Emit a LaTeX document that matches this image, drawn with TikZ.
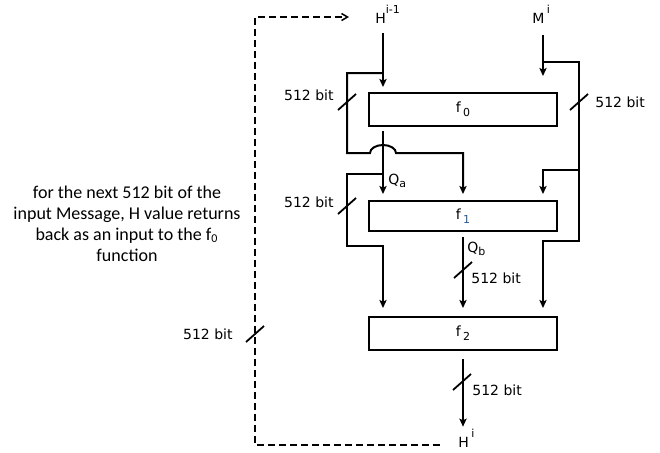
\documentclass[tikz,border=0pt]{standalone}
\usepackage{fontspec}
\setmainfont{DejaVu Sans}
\newfontfamily\notefont{Carlito}
\usetikzlibrary{arrows.meta, positioning, calc}
\definecolor{colIdx}{RGB}{31,92,153}
\newcommand{\hsup}[1]{\raisebox{1.25ex}{\fontsize{5.5}{6}\selectfont #1}}
\newcommand{\lsub}[1]{\raisebox{-0.5ex}{\fontsize{5.5}{6}\selectfont #1}}
\tikzset{
  % compression blocks
  fblock/.style={
    rectangle, draw, line width=1pt,
    inner sep=0pt, minimum width=94pt, minimum height=16.5pt,
    font=\fontsize{7}{8}\selectfont,
  },
  % signal names and width labels
  sig/.style   ={inner sep=0pt, font=\fontsize{7}{8}\selectfont},
  bitLbl/.style={inner sep=0pt, font=\fontsize{7}{8}\selectfont},
  % wires
  wire/.style   ={line width=1pt},
  flowArr/.style={wire, -{Stealth[length=4pt, width=3.6pt, inset=0.8pt]}},
  loopArr/.style={line width=0.75pt, dash pattern=on 3.5pt off 2pt,
                  -{Straight Barb[length=3pt, width=3.5pt]}},
  % bus width tick
  busmark/.pic={\draw[line width=0.9pt] (-9,8) -- (9,-8);},
}

\begin{document}
\begin{tikzpicture}[x=0.5pt, y=-0.5pt]
\useasboundingbox (0,0) rectangle (660,452);

% ═════════════════════════════════════════════════════════
%  BLOCKS f0, f1, f2
% ═════════════════════════════════════════════════════════
\node[fblock] (f0) at (463,109.5) {f\,\lsub{0}};
\node[fblock, minimum height=15pt, below=36.5pt of f0] (f1) {f\,\lsub{\textcolor{colIdx}{1}}};
\node[fblock, below=42pt of f1] (f2) {f\,\lsub{2}};

% ═════════════════════════════════════════════════════════
%  SIGNALS
% ═════════════════════════════════════════════════════════
\node[sig, anchor=base west] (Hin)  at (375,23)  {H\hsup{i-1}};
\node[sig, anchor=base west] (Min)  at (532,23)  {M\,\hsup{i}};
\node[sig, anchor=base west] (Hout) at (458,447) {H\,\hsup{i}};

\coordinate (hTop)  at (383,33);
\coordinate (mTop)  at (543,35);
\coordinate (hTap)  at (383,73);
\coordinate (mTap)  at (543,62);
\coordinate (qaTap) at (383,174);
\coordinate (mTap1) at (579,170);
\coordinate (loopCorner) at (255,17);

% ═════════════════════════════════════════════════════════
%  INPUTS OF f0
% ═════════════════════════════════════════════════════════
\draw[flowArr, shorten >=2.5pt] (hTop) -- (hTop |- f0.north);
\draw[flowArr, shorten >=8pt]   (mTop) -- (mTop |- f0.north);

% H bypass to f1, hopping over Q_a
\draw[flowArr, shorten >=3pt]
  (hTap) -- ++(-36,0) -- ++(0,80) -- ++(23,0)
  arc[start angle=180, end angle=0, x radius=6.5pt, y radius=4pt]
  -- ++(67,0) -- (f1.north);

% M to f1 and f2
\draw[flowArr, shorten >=4pt]
  (mTap) -- ++(36,0) -- ++(0,179) -- ++(-36,0) -- (f2.north -| mTap);
\draw[flowArr, shorten >=3pt] (mTap1) -- ++(-36,0) -- (f1.north -| mTop);

% ═════════════════════════════════════════════════════════
%  Q_a, Q_b AND OUTPUT
% ═════════════════════════════════════════════════════════
\draw[flowArr, shorten <=2pt, shorten >=3pt] (f0.south -| hTop) -- (f1.north -| hTop);
\node[sig, anchor=base west] (qa) at (388,184) {Q\lsub{a}};

\draw[flowArr, shorten >=4pt]
  (qaTap) -- ++(-36,0) -- ++(0,72) -- ++(36,0) -- (f2.north -| qaTap);

\draw[flowArr, shorten <=2.5pt, shorten >=4pt] (f1.south) -- (f2.north);
\node[sig, anchor=base west] (qb) at (467,252) {Q\lsub{b}};

\draw[flowArr, shorten <=4pt, shorten >=1pt] (f2.south) -- (f2.south |- Hout.north);

% feedback of H to the next block
\draw[loopArr]
  ([xshift=-9pt, yshift=1pt]Hout.base west) -| (loopCorner)
  -- ([xshift=-13pt, yshift=3pt]Hin.base west);

% ── bus widths ──────────────────────────────────────────
\pic at (347,102) {busmark};
\pic at (347,206) {busmark};
\pic at (579,102) {busmark};
\pic at (463,270) {busmark};
\pic at (462,382) {busmark};
\pic at (255,334) {busmark};

\node[bitLbl, anchor=east] (bitL0)   at (334,95)  {512 bit};
\node[bitLbl, anchor=east] (bitL1)   at (334,202) {512 bit};
\node[bitLbl, anchor=west] (bitR0)   at (595,102) {512 bit};
\node[bitLbl, anchor=west] (bitQb)   at (471,278) {512 bit};
\node[bitLbl, anchor=west] (bitOut)  at (472,390) {512 bit};
\node[bitLbl, anchor=east] (bitLoop) at (233,334) {512 bit};

% ── note ────────────────────────────────────────────────
\node[inner sep=0pt, align=center, font=\notefont\fontsize{9}{10.4}\selectfont]
  (note) at (127,224)
  {for the next 512 bit of the\\input Message, H value returns\\
   back as an input to the f\textsubscript{0}\\function};

\end{tikzpicture}
\end{document}
